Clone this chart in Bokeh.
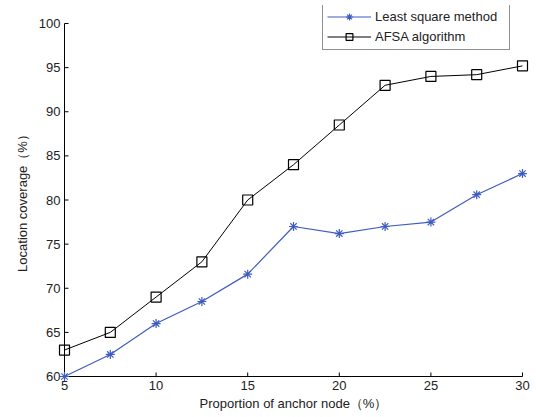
from bokeh.plotting import figure
from bokeh.models import Range1d, FixedTicker, Legend, LegendItem
from bokeh.embed import file_html
from bokeh.resources import INLINE

x_vals = [5, 7.5, 10, 12.5, 15, 17.5, 20, 22.5, 25, 27.5, 30]
lsm = [60, 62.5, 66, 68.5, 71.6, 77, 76.2, 77, 77.5, 80.6, 83]
afsa = [63, 65, 69, 73, 80, 84, 88.5, 93, 94, 94.2, 95.2]
x_ticks = [5, 10, 15, 20, 25, 30]
y_ticks = [60, 65, 70, 75, 80, 85, 90, 95, 100]
series_names = ["Least square method", "AFSA algorithm"]
x_label = "Proportion of anchor node（%）"
y_label = "Location coverage（%）"

FONT = "Liberation Sans"
FS = "13px"
BLUE = "#3f5cc0"
TXT = "#222222"

# pixel scale: x 18.32 px/unit, y 8.825 px/unit; pad frame so markers aren't clipped
XPX = 458 / 25.0
YPX = 353 / 40.0
PADL, PADB, PADT, PADR = 8, 18, 18, 8
x0, x1 = x_ticks[0] - PADL / XPX, x_ticks[-1] + PADR / XPX
y0, y1 = y_ticks[0] - PADB / YPX, y_ticks[-1] + PADT / YPX

p = figure(width=536, height=417, output_backend="svg", toolbar_location=None,
           x_range=Range1d(x0, x1), y_range=Range1d(y0, y1),
           min_border_left=64 - PADL, min_border_right=14 - PADR,
           min_border_top=23 - PADT, min_border_bottom=41 - PADB)
p.outline_line_color = None
p.xgrid.visible = False
p.ygrid.visible = False
p.background_fill_color = "white"
p.border_fill_color = "white"

for ax, ticks in ((p.xaxis, x_ticks), (p.yaxis, y_ticks)):
    ax.ticker = FixedTicker(ticks=ticks)
    ax.minor_tick_line_color = None
    ax.major_tick_line_color = None
    ax.major_tick_in = 0
    ax.major_tick_out = 0
    ax.axis_line_color = None
    ax.major_label_text_font = FONT
    ax.major_label_text_font_size = FS
    ax.major_label_text_color = TXT
    ax.axis_label_text_font = FONT
    ax.axis_label_text_font_size = FS
    ax.axis_label_text_font_style = "normal"
    ax.axis_label_text_color = TXT

p.xaxis.axis_label = x_label
p.yaxis.axis_label = y_label
p.xaxis.major_label_standoff = 4 - PADB
p.yaxis.major_label_standoff = 4 - PADL
p.xaxis.axis_label_standoff = 3
p.yaxis.axis_label_standoff = 6

# axis lines and inward ticks drawn at the data bounds
xa, xb = x_ticks[0], x_ticks[-1]
ya, yb = y_ticks[0], y_ticks[-1]
p.segment(x0=[xa, xa], y0=[ya, ya], x1=[xa, xb], y1=[yb, ya], line_color="black", line_width=1)
p.segment(x0=[xa] * len(y_ticks), y0=y_ticks, x1=[xa + 4 / XPX] * len(y_ticks), y1=y_ticks,
          line_color="black", line_width=1)
p.segment(x0=x_ticks, y0=[ya] * len(x_ticks), x1=x_ticks, y1=[ya + 4 / YPX] * len(x_ticks),
          line_color="black", line_width=1)

l1 = p.line(x_vals, lsm, line_color=BLUE, line_width=1.2)
s1 = p.scatter(x_vals, lsm, marker="asterisk", size=9, line_color=BLUE, line_width=1.2)
l2 = p.line(x_vals, afsa, line_color="black", line_width=1)
s2 = p.scatter(x_vals, afsa, marker="square", size=10, line_color="black",
               fill_alpha=0, line_width=1.2)

legend = Legend(items=[LegendItem(label=series_names[0], renderers=[l1, s1]),
                       LegendItem(label=series_names[1], renderers=[l2, s2])],
                location=(322 - (64 - PADL), (376 + PADB) - 50))
legend.border_line_color = "#222222"
legend.border_line_width = 1
legend.background_fill_color = "white"
legend.background_fill_alpha = 1
legend.label_text_font = FONT
legend.label_text_font_size = FS
legend.label_text_color = TXT
legend.padding = 4
legend.margin = 0
legend.spacing = 3
legend.glyph_width = 44
legend.glyph_height = 17
legend.label_height = 17
legend.label_width = 130
legend.label_standoff = 4
p.add_layout(legend, "center")

open("out.html", "w").write(file_html(p, INLINE))
